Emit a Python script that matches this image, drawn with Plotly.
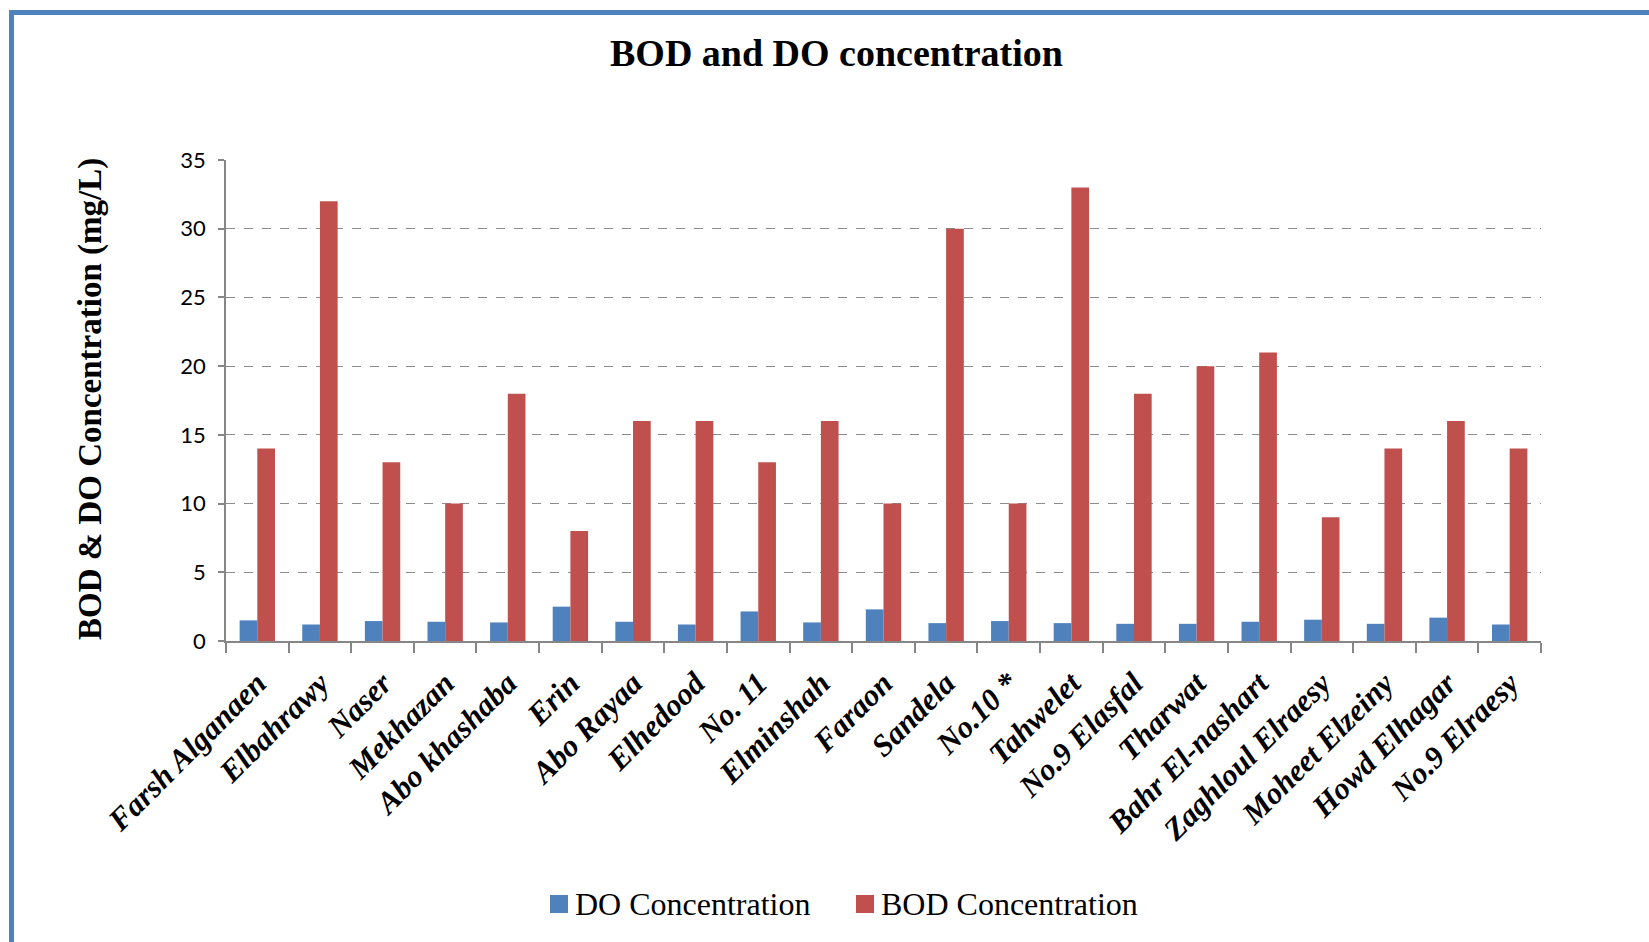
import plotly.graph_objects as go

# Sampling sites
sites = [
    "Farsh Alganaen", "Elbahrawy", "Naser", "Mekhazan", "Abo khashaba", "Erin",
    "Abo Rayaa", "Elhedood", "No. 11", "Elminshah", "Faraon", "Sandela",
    "No.10 *", "Tahwelet", "No.9 Elasfal", "Tharwat", "Bahr El-nashart",
    "Zaghloul Elraesy", "Moheet Elzeiny", "Howd Elhagar", "No.9 Elraesy",
]

# Dissolved oxygen (mg/L)
do_values = [1.5, 1.2, 1.45, 1.4, 1.35, 2.5, 1.4, 1.2, 2.15, 1.35, 2.3,
             1.3, 1.45, 1.3, 1.25, 1.25, 1.4, 1.55, 1.25, 1.7, 1.2]

# Biochemical oxygen demand (mg/L)
bod_values = [14, 32, 13, 10, 18, 8, 16, 16, 13, 16, 10,
              30, 10, 33, 18, 20, 21, 9, 14, 16, 14]

series_names = ["DO Concentration", "BOD Concentration"]
series_colors = ["#4F81BD", "#C0504D"]

W, H = 1649, 942
L, R, T, B = 226, 108, 160, 301
PW, PH = W - L - R, H - T - B


def px(x):
    return (x - L) / PW


def py(y):
    return (H - B - y) / PH


serif = "Liberation Serif"

fig = go.Figure()
for name, vals, col in zip(series_names, [do_values, bod_values], series_colors):
    fig.add_trace(go.Bar(
        x=sites, y=vals, name=name,
        marker=dict(color=col, line=dict(width=0)),
        showlegend=False,
    ))

fig.update_layout(
    width=W, height=H,
    margin=dict(l=L, r=R, t=T, b=B, pad=0),
    paper_bgcolor="white", plot_bgcolor="white",
    barmode="group", bargap=0.435, bargroupgap=0,
    xaxis=dict(
        type="category", showline=True, linecolor="#868686", linewidth=1.5,
        ticks="outside", tickson="boundaries", ticklen=10, tickcolor="#868686",
        tickwidth=1.5, tickangle=-45, showgrid=False, ticklabelstandoff=10,
        tickfont=dict(family=serif, size=31, color="black", weight="bold", style="italic"),
    ),
    yaxis=dict(
        range=[0, 35], dtick=5, showline=True, linecolor="#868686", linewidth=1.5,
        ticks="outside", ticklen=6, tickcolor="#868686", tickwidth=1.5,
        showgrid=True, gridcolor="#8c8c8c", griddash="dash", gridwidth=1,
        zeroline=False, ticklabelstandoff=8,
        tickfont=dict(family="Lato", size=22, color="black"),
    ),
    font=dict(family=serif, color="black"),
)

annotations = [
    dict(text="<b>BOD and DO concentration</b>", x=px(836), y=py(53),
         xref="paper", yref="paper", showarrow=False,
         font=dict(family=serif, size=38, color="black"),
         xanchor="center", yanchor="middle"),
    dict(text="<b>BOD & DO Concentration (mg/L)</b>", x=px(90), y=py(399),
         xref="paper", yref="paper", showarrow=False, textangle=-90,
         font=dict(family=serif, size=33, color="black"),
         xanchor="center", yanchor="middle"),
]

shapes = []
# Legend: colored squares followed by series labels
legend_items = [(550, 573), (856, 879)]
legend_y = 904
for (sq_x, tx), name, col in zip(legend_items, series_names, series_colors):
    shapes.append(dict(type="rect", xref="paper", yref="paper",
                       x0=px(sq_x), x1=px(sq_x + 18), y0=py(legend_y - 9), y1=py(legend_y + 9),
                       fillcolor=col, line=dict(width=0)))
    annotations.append(dict(text=name, x=px(tx), y=py(legend_y), xref="paper", yref="paper",
                            showarrow=False, xanchor="left", yanchor="middle",
                            font=dict(family=serif, size=32, color="black")))

# Blue chart frame along the left and top edges
frame_col = "#4F81BD"
shapes.append(dict(type="line", xref="paper", yref="paper",
                   x0=px(11.5), x1=px(11.5), y0=py(10), y1=py(H + 5),
                   line=dict(color=frame_col, width=5)))
shapes.append(dict(type="line", xref="paper", yref="paper",
                   x0=px(9), x1=px(W + 5), y0=py(12.5), y1=py(12.5),
                   line=dict(color=frame_col, width=5)))

fig.update_layout(annotations=annotations, shapes=shapes)

fig.write_html("out.html")
